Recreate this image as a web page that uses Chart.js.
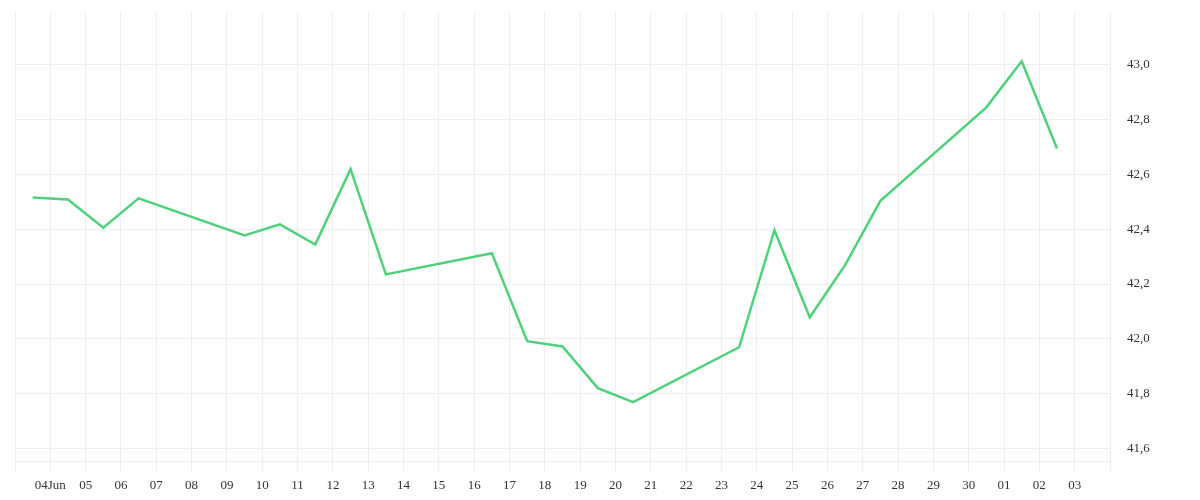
<!DOCTYPE html>
<html>
<head>
<meta charset="utf-8">
<title>Курс</title>
<script src="https://cdn.jsdelivr.net/npm/chart.js@4/dist/chart.umd.min.js"></script>
<style>
  html, body { margin: 0; padding: 0; background: #fff; }
  #wrap { width: 1200px; height: 500px; }
</style>
</head>
<body>
<div id="wrap"><canvas id="rateChart"></canvas></div>
<script>
// ====== DATA ======
const dates = [
  "2019-06-03", "2019-06-04", "2019-06-05", "2019-06-06",
  "2019-06-09", "2019-06-10", "2019-06-11", "2019-06-12", "2019-06-13",
  "2019-06-16", "2019-06-17", "2019-06-18", "2019-06-19", "2019-06-20",
  "2019-06-23", "2019-06-24", "2019-06-25", "2019-06-26", "2019-06-27",
  "2019-06-30", "2019-07-01", "2019-07-02"
];
const rates = [
  42.515, 42.508, 42.405, 42.512,
  42.377, 42.417, 42.344, 42.618, 42.235,
  42.312, 41.992, 41.973, 41.821, 41.770,
  41.970, 42.396, 42.079, 42.269, 42.503,
  42.843, 43.011, 42.693
];
const rangeStart = "2019-06-03"; // left edge of the axis
const rangeEnd = "2019-07-04";   // right edge of the axis
const yTicks = [41.6, 41.8, 42.0, 42.2, 42.4, 42.6, 42.8, 43.0];
const monthNames = ["Jan", "Feb", "Mar", "Apr", "May", "Jun", "Jul", "Aug", "Sep", "Oct", "Nov", "Dec"];

// ====== HELPERS ======
const DAY = 86400000;
const t0 = Date.parse(rangeStart + "T00:00:00Z");
function dayIndex(str) {
  return (Date.parse(str + "T12:00:00Z") - t0) / DAY;
}
function dayLabel(v) {
  const d = new Date(t0 + v * DAY);
  const dd = String(d.getUTCDate()).padStart(2, "0");
  return v === 1 ? dd + monthNames[d.getUTCMonth()] : dd;
}

const points = dates.map((d, i) => ({ x: dayIndex(d), y: rates[i] }));
const xMax = Math.round((Date.parse(rangeEnd + "T00:00:00Z") - t0) / DAY);

// ====== GRAFIK ======
const gridColor = "#eeeeee";
const tickFont = { family: "'Liberation Serif', 'DejaVu Serif', serif", size: 13 };

new Chart(document.getElementById("rateChart").getContext("2d"), {
  type: "line",
  data: {
    datasets: [
      {
        data: points,
        borderColor: "#4fd17c",
        borderWidth: 2.5,
        pointRadius: 0,
        tension: 0,
        fill: false,
      },
    ],
  },
  options: {
    responsive: true,
    maintainAspectRatio: false,
    animation: false,
    layout: { padding: { left: 15, top: 12, right: 0, bottom: 0 } },
    plugins: { legend: { display: false }, tooltip: { enabled: false } },
    scales: {
      x: {
        type: "linear",
        min: 0,
        max: xMax,
        grid: { color: gridColor, tickLength: 10 },
        border: { color: gridColor },
        afterFit: (scale) => {
          scale.height = 39;
        },
        ticks: {
          stepSize: 1,
          autoSkip: false,
          maxRotation: 0,
          padding: 7,
          color: "#333",
          font: tickFont,
          callback: (v) => (v <= 0 || v >= xMax ? "" : dayLabel(v)),
        },
      },
      y: {
        position: "right",
        min: 41.556,
        max: 43.19,
        grid: { color: gridColor, drawTicks: false },
        border: { color: gridColor },
        afterBuildTicks: (scale) => {
          scale.ticks = yTicks.map((v) => ({ value: v }));
        },
        afterFit: (scale) => {
          scale.width = 90;
          scale.paddingTop = 0;
          scale.paddingBottom = 0;
        },
        ticks: {
          padding: 17,
          color: "#333",
          font: tickFont,
          callback: (v) => v.toFixed(1).replace(".", ","),
        },
      },
    },
  },
});
</script>
</body>
</html>
